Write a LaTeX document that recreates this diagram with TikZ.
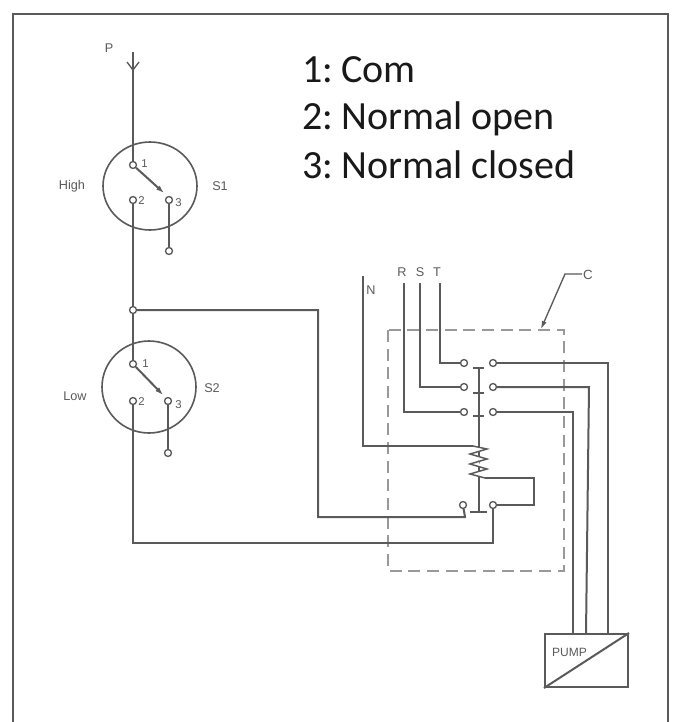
\documentclass[tikz,border=0pt]{standalone}
\usepackage{fontspec}
\setmainfont{Liberation Sans}
\newfontfamily\calib{Carlito}
\usetikzlibrary{arrows.meta,shapes.geometric}
\definecolor{wire}{HTML}{5A5A5A}
\definecolor{framec}{HTML}{5A5A5A}
\tikzset{
  wirel/.style={draw=wire,line width=1.5pt,line join=miter},
  thinl/.style={draw=wire,line width=1.1pt},
  term/.style={circle,draw=wire,line width=1pt,fill=white,minimum size=5.2pt,inner sep=0pt},
  lab/.style={text=wire,font=\fontsize{9.5}{10}\selectfont,inner sep=0pt},
  num/.style={text=wire,font=\fontsize{8.5}{9}\selectfont,inner sep=0pt,anchor=west},
  bigt/.style={text=black!90,font=\calib\fontsize{30}{32}\selectfont,inner sep=0pt,anchor=base west},
  dashbox/.style={draw=black!40,line width=1.5pt,dash pattern=on 9pt off 5pt},
  swcirc/.style={ellipse,draw=wire,line width=1.2pt,minimum width=70.5pt,inner sep=0pt},
}
\begin{document}
\begin{tikzpicture}[x=0.75pt,y=-0.75pt]
\useasboundingbox (0,0) rectangle (672,722);
\fill[white] (0,0) rectangle (672,722);
\draw[framec,line width=1.7pt] (13,722) -- (13,14) -- (668,14) -- (668,722);
% big legend
\node[bigt] (l1) at (302,82) {1:\hskip-0.7pt\ Com};
\node[bigt] (l2) at (302,129) {2:\hskip-0.7pt\ Normal open};
\node[bigt] (l3) at (302,178) {3:\hskip-0.7pt\ Normal closed};
% switch circles
\node[swcirc,minimum height=66pt] (c1) at (150,186) {};
\node[swcirc,minimum height=69pt] (c2) at (149,387) {};
% terminals
\coordinate (pt) at (133,52);
\node[term] (s1a) at (133,165) {};
\node[term] (s1b) at (133,200) {};
\node[term] (s1c) at (169,200) {};
\node[term] (s1d) at (169,251) {};
\node[term] (j) at (133,310) {};
\node[term] (s2a) at (133,364) {};
\node[term] (s2b) at (133,401) {};
\node[term] (s2c) at (168,401) {};
\node[term] (s2d) at (168,453) {};
% wires left
\draw[wirel] (pt) -- (s1a);
\draw[wire,line width=1pt] (127,62) -- (133,70) -- (139,62);
\draw[wirel] (s1b) -- (j);
\draw[wirel] (j) -- (s2a);
\draw[wirel] (s1c) -- (s1d);
\draw[wirel] (s2c) -- (s2d);
\draw[wirel,-{Latex[length=6pt,width=4pt]}] (s1a) -- (164,193);
\draw[wirel,-{Latex[length=6pt,width=4pt]}] (s2a) -- (163,395);
% labels left
\node[lab] (tp) at (109,48) {P};
\node[num] (t1) at (141,164) {1};
\node[num] (t2) at (138,201) {2};
\node[num] (t3) at (175,203) {3};
\node[lab] (th) at (72,186) {High};
\node[lab] (ts1) at (220,186) {S1};
\node[num] (t1b) at (142,364) {1};
\node[num] (t2b) at (138,402) {2};
\node[num] (t3b) at (175,405) {3};
\node[lab] (tl) at (75,396) {Low};
\node[lab] (ts2) at (212,388) {S2};
% contactor box
\draw[dashbox] (388,330) rectangle (564,571);
% contactor terminals
\node[term] (al) at (464,363) {};
\node[term] (ar) at (493,363) {};
\node[term] (bl) at (464,387) {};
\node[term] (br) at (493,387) {};
\node[term] (cl) at (464,412) {};
\node[term] (cr) at (493,412) {};
\node[term] (dl) at (463,505) {};
\node[term] (dr) at (493,505) {};
% bars and linkage
\draw[thinl] (479,368) -- (479,512);
\draw[thinl] (473,368) -- (484,368);
\draw[thinl] (473,393) -- (484,393);
\draw[thinl] (473,416) -- (484,416);
\draw[thinl] (470,512) -- (487,512);
% coil
\coordinate (ct) at (473,446);
\coordinate (cb) at (485,478);
\draw[thinl,fill=white] (473,446) -- (487,449) -- (470,454) -- (487,459) -- (470,464) -- (487,469) -- (470,474) -- (485,478);
% supply
\coordinate (nt) at (363,276);
\coordinate (rt) at (404,283);
\coordinate (st) at (420,283);
\coordinate (tt) at (440,283);
\draw[wirel] (nt) |- (ct);
\draw[wirel] (rt) |- (cl);
\draw[wirel] (st) |- (bl);
\draw[wirel] (tt) |- (al);
\node[lab] (tn) at (371,290) {N};
\node[lab] (tr) at (402,272) {R};
\node[lab] (ts) at (420,272) {S};
\node[lab] (tt2) at (437,272) {T};
% pump
\node[draw=wire,line width=1.5pt,minimum width=62.25pt,minimum height=39.75pt,inner sep=0pt] (pump) at (586.5,660.5) {};
\draw[wirel] (pump.south west) -- (pump.north east);
\node[lab,font=\fontsize{9}{9}\selectfont] (tpump) at (569.5,652) {PUMP};
% output wires
\coordinate (p1) at (573,634);
\coordinate (p2t) at (589,387);
\coordinate (p2) at (586,634);
\coordinate (p3) at (608,634);
\draw[wirel] (cr) -| (p1);
\draw[wirel] (br) -- (p2t) -- (p2);
\draw[wirel] (ar) -| (p3);
% control wiring
\draw[wirel] (j) -- (318,310) -- (318,517) -- (465,517) -- (dl);
\draw[wirel] (s2b) -- (133,543) -- (493,543) -- (dr);
\draw[wirel] (dr) -- (534,505) -- (534,478) -- (cb);
% C leader
\node[lab,font=\fontsize{10}{10}\selectfont] (tc) at (588,275) {C};
\coordinate (c0) at (582,274);
\coordinate (c1k) at (565,274);
\coordinate (c2k) at (541,329);
\draw[wire,line width=1pt,-{Latex[length=6pt,width=4pt]}] (c0) -- (c1k) -- (c2k);
\end{tikzpicture}
\end{document}
